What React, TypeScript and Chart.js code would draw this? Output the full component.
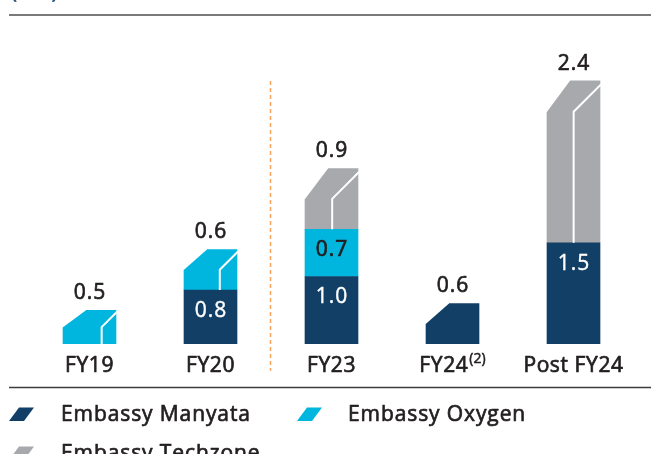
import React, { useEffect, useRef } from "react";
import { Chart, registerables } from "chart.js";

Chart.register(...registerables);

const categories = ["FY19", "FY20", "FY23", "FY24", "Post FY24"];
const categoryNotes = ["", "", "", "(2)", ""];
const manyata: (number | null)[] = [null, 0.8, 1.0, 0.6, 1.5];
const oxygen: (number | null)[] = [0.5, 0.6, 0.7, null, null];
const techzone: (number | null)[] = [null, null, 0.9, null, 2.4];
const seriesNames = ["Embassy Manyata", "Embassy Oxygen", "Embassy Techzone"];
const seriesColors = ["#123f66", "#00b6de", "#a7a9ac"];
const unitLabel = "(msf)";

const FONT = '"Open Sans", sans-serif';
const TEXT = "#231f20";

const fmt = (v: number) => v.toFixed(1);

const shapePlugin = {
  id: "shapes",
  afterDatasetsDraw(chart: any) {
    const ctx = chart.ctx;
    ctx.save();
    for (let i = 0; i < categories.length; i++) {
      let topDs = -1;
      chart.data.datasets.forEach((ds: any, d: number) => {
        if (ds.data[i] != null) topDs = d;
      });
      if (topDs < 0) continue;
      const el = chart.getDatasetMeta(topDs).data[i];
      const { x, y, base, width } = el.getProps(["x", "y", "base", "width"], true);
      const left = x - width / 2;
      const right = x + width / 2;
      const h = base - y;
      const drop = Math.min(h / 2, 31);
      const cx = 23;
      ctx.fillStyle = "#ffffff";
      ctx.beginPath();
      ctx.moveTo(left + cx, y - 2);
      ctx.lineTo(left + cx, y);
      ctx.lineTo(left, y + drop);
      ctx.lineTo(left - 2, y + drop);
      ctx.lineTo(left - 2, y - 2);
      ctx.closePath();
      ctx.fill();
      if (topDs > 0) {
        const xw = right - 0.85 * drop;
        ctx.strokeStyle = "#ffffff";
        ctx.lineWidth = 2;
        ctx.beginPath();
        ctx.moveTo(xw, base);
        ctx.lineTo(xw, y + drop);
        ctx.lineTo(right + 1, y + 0.15 * drop - 1);
        ctx.stroke();
      }
    }
    ctx.restore();
  },
};

const setSpacing = (ctx: any, v: string) => {
  ctx.letterSpacing = v;
};

const drawText = (ctx: any, s: string, x: number, y: number, color: string, stroke = 0.7) => {
  ctx.fillStyle = color;
  ctx.strokeStyle = color;
  ctx.lineWidth = stroke;
  ctx.lineJoin = "round";
  ctx.fillText(s, x, y);
  if (stroke > 0) ctx.strokeText(s, x, y);
};

const decorPlugin = {
  id: "decor",
  afterDraw(chart: any) {
    const ctx = chart.ctx;
    const xs = chart.scales.x;
    ctx.save();

    // partial unit title at top
    ctx.font = `20px ${FONT}`;
    ctx.textAlign = "left";
    ctx.textBaseline = "alphabetic";
    drawText(ctx, unitLabel, 11, -2, "#1f4e79");

    // top rule
    ctx.strokeStyle = "#7a7a7a";
    ctx.lineWidth = 2;
    ctx.beginPath();
    ctx.moveTo(9, 15);
    ctx.lineTo(651, 15);
    ctx.stroke();

    // dashed divider between FY20 and FY23
    const dx = Math.round((xs.getPixelForValue(1) + xs.getPixelForValue(2)) / 2) - 0.5;
    ctx.strokeStyle = "#f5a55c";
    ctx.lineWidth = 1.5;
    ctx.setLineDash([4, 3]);
    ctx.beginPath();
    ctx.moveTo(dx, 81);
    ctx.lineTo(dx, 371);
    ctx.stroke();
    ctx.setLineDash([]);

    // value labels
    ctx.font = `21px ${FONT}`;
    setSpacing(ctx, "1px");
    ctx.textAlign = "center";
    ctx.textBaseline = "middle";
    for (let i = 0; i < categories.length; i++) {
      let topDs = -1;
      chart.data.datasets.forEach((ds: any, d: number) => {
        if (ds.data[i] != null) topDs = d;
      });
      chart.data.datasets.forEach((ds: any, d: number) => {
        const v = ds.data[i];
        if (v == null) return;
        const el = chart.getDatasetMeta(d).data[i];
        const { x, y } = el.getProps(["x", "y"], true);
        if (d === topDs) {
          drawText(ctx, fmt(v), x + 0.5, y - 17, TEXT);
        } else {
          drawText(ctx, fmt(v), x + 0.5, y + 21, d === 0 ? "#ffffff" : TEXT, d === 0 ? 0.4 : 0.7);
        }
      });
    }

    // category labels
    ctx.textBaseline = "alphabetic";
    for (let i = 0; i < categories.length; i++) {
      const cxp = xs.getPixelForValue(i);
      setSpacing(ctx, "0.6px");
      ctx.font = `21px ${FONT}`;
      const w1 = ctx.measureText(categories[i]).width;
      setSpacing(ctx, "0px");
      ctx.font = `14px ${FONT}`;
      const w2 = categoryNotes[i] ? ctx.measureText(categoryNotes[i]).width + 1 : 0;
      const start = cxp - (w1 + w2) / 2;
      ctx.textAlign = "left";
      setSpacing(ctx, "0.6px");
      ctx.font = `21px ${FONT}`;
      drawText(ctx, categories[i], start, 372, TEXT);
      setSpacing(ctx, "0px");
      if (categoryNotes[i]) {
        ctx.font = `14px ${FONT}`;
        drawText(ctx, categoryNotes[i], start + w1 + 1, 363, TEXT, 0.5);
      }
    }

    // legend separator
    ctx.strokeStyle = "#3c3c3c";
    ctx.lineWidth = 1.5;
    ctx.beginPath();
    ctx.moveTo(9, 387.5);
    ctx.lineTo(651, 387.5);
    ctx.stroke();

    // legend
    const legendPos = [
      { ix: 9, tx: 61, by: 421 },
      { ix: 297, tx: 348, by: 421 },
      { ix: 9, tx: 61, by: 460 },
    ];
    seriesNames.forEach((name, k) => {
      const p = legendPos[k];
      ctx.fillStyle = seriesColors[k];
      ctx.beginPath();
      ctx.moveTo(p.ix + 10, p.by - 13.5);
      ctx.lineTo(p.ix + 25, p.by - 13.5);
      ctx.lineTo(p.ix + 15, p.by);
      ctx.lineTo(p.ix, p.by);
      ctx.closePath();
      ctx.fill();
      ctx.font = `21px ${FONT}`;
      ctx.textAlign = "left";
      setSpacing(ctx, "0.9px");
      drawText(ctx, name, p.tx, p.by, TEXT);
      setSpacing(ctx, "0px");
    });

    ctx.restore();
  },
};

export default function App() {
  const ref = useRef<HTMLCanvasElement | null>(null);

  useEffect(() => {
    if (!ref.current) return;
    const chart = new Chart(ref.current, {
      type: "bar",
      data: {
        labels: categories,
        datasets: [
          { label: seriesNames[0], data: manyata, backgroundColor: seriesColors[0] },
          { label: seriesNames[1], data: oxygen, backgroundColor: seriesColors[1] },
          { label: seriesNames[2], data: techzone, backgroundColor: seriesColors[2] },
        ] as any,
      },
      options: {
        responsive: false,
        animation: false,
        devicePixelRatio: 1,
        layout: { padding: { left: 29, right: 17, top: 74, bottom: 110 } },
        datasets: { bar: { barThickness: 53, borderWidth: 0 } } as any,
        scales: {
          x: { stacked: true, display: false },
          y: { stacked: true, display: false, min: 0, max: 4 },
        },
        plugins: {
          legend: { display: false },
          tooltip: { enabled: false },
        },
      },
      plugins: [shapePlugin, decorPlugin],
    });
    return () => chart.destroy();
  }, []);

  return (
    <div style={{ position: "absolute", left: 0, top: 0, width: 651, height: 454, background: "#fff" }}>
      <canvas ref={ref} width={651} height={454} style={{ display: "block" }} />
    </div>
  );
}
